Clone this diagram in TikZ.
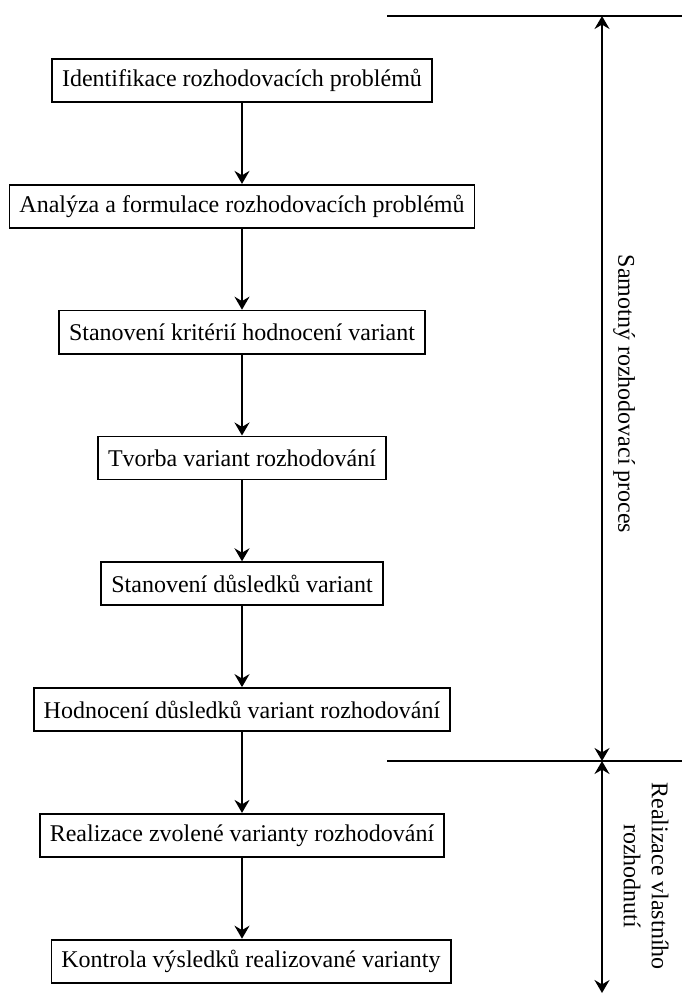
\documentclass[tikz,border=0pt]{standalone}
\usepackage{fontspec}
\setmainfont{Liberation Serif}
\usetikzlibrary{arrows.meta}
\usetikzlibrary{positioning}

\begin{document}
\begin{tikzpicture}[->,>={Stealth[length=6.5pt,width=7.5pt,inset=2.2pt]},x=0.5pt,y=-0.5pt,
  line width=0.9pt,node distance=40.5pt,
  stage node/.style={rectangle,draw,inner xsep=5pt,inner ysep=0pt,minimum height=21.5pt,font=\fontsize{12}{14}\selectfont}]

  \useasboundingbox (0,0) rectangle (682,994);

  \node[stage node] (1) at (242,80.5) {Identifikace rozhodovacích problémů};
  \node[stage node] (2) [below=of 1] {Analýza a formulace rozhodovacích problémů};
  \node[stage node] (3) [below=of 2] {Stanovení kritérií hodnocení variant};
  \node[stage node] (4) [below=of 3] {Tvorba variant rozhodování};
  \node[stage node] (5) [below=of 4] {Stanovení důsledků variant};
  \node[stage node] (6) [below=of 5] {Hodnocení důsledků variant rozhodování};
  \node[stage node] (7) [below=of 6] {Realizace zvolené varianty rozhodování};
  \node[stage node] (8) [below=of 7, xshift=4.5pt] {Kontrola výsledků realizované varianty};

  \path (1) edge (2)
    (2) edge (3)
    (3) edge (4)
    (4) edge (5)
    (5) edge (6)
    (6) edge (7);
  \path (7.south) edge (7.south |- 8.north);

  % phase borders on the right
  \coordinate (topl) at (387,16);
  \coordinate (topr) at (682,16);
  \coordinate (midl) at (387,761);
  \coordinate (midr) at (682,761);
  \coordinate (ptop) at (602,16);
  \coordinate (pmid) at (602,761);
  \coordinate (pend) at (602,993);

  \draw[-] (topl) -- (topr);
  \draw[-] (midl) -- (midr);
  \draw[<->] (pmid) -- (ptop);
  \draw[<->] (pmid) -- (pend);

  \node[rotate=-90,font=\fontsize{12}{14}\selectfont] (proc) at (624,394) {Samotný rozhodovací proces};
  \node[rotate=-90,align=center,font=\fontsize{12}{14}\selectfont] (real) at (646,876) {Realizace vlastního\\rozhodnutí};
\end{tikzpicture}
\end{document}
